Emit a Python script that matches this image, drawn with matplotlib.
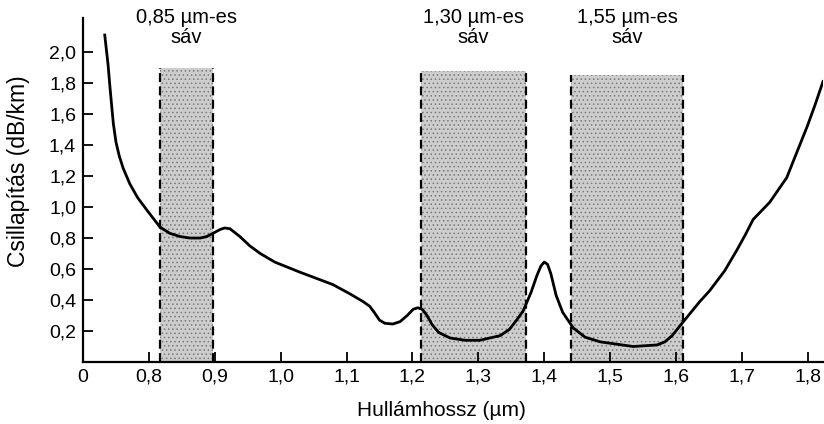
# Imports
import matplotlib
matplotlib.use('Agg')
import matplotlib.pyplot as plt
import numpy as np

# Plot configuration
plt.rcParams['font.family'] = ['Liberation Sans', 'DejaVu Sans']
plt.rcParams['hatch.linewidth'] = 0.6

# Attenuation curve (wavelength in um, dB/km)
# x = 0.7 is the broken-axis origin labelled "0"
wavelength = [0.733, 0.738, 0.741, 0.746, 0.750, 0.755, 0.761, 0.771, 0.783, 0.797,
              0.817, 0.832, 0.847, 0.862, 0.878, 0.888, 0.897, 0.908, 0.915, 0.923,
              0.938, 0.953, 0.969, 0.991, 1.029, 1.079, 1.105, 1.125, 1.135, 1.142,
              1.150, 1.158, 1.170, 1.181, 1.192, 1.201, 1.208, 1.215, 1.222, 1.230,
              1.240, 1.257, 1.280, 1.302, 1.333, 1.347, 1.358, 1.368, 1.380, 1.389,
              1.395, 1.400, 1.405, 1.410, 1.418, 1.428, 1.444, 1.462, 1.485, 1.535,
              1.571, 1.583, 1.594, 1.611, 1.636, 1.651, 1.674, 1.692, 1.705, 1.717,
              1.742, 1.768, 1.783, 1.799, 1.811, 1.823]
attenuation = [2.11, 1.92, 1.77, 1.54, 1.42, 1.33, 1.25, 1.15, 1.06, 0.98,
               0.87, 0.83, 0.81, 0.80, 0.80, 0.81, 0.83, 0.855, 0.865, 0.86,
               0.81, 0.75, 0.70, 0.645, 0.58, 0.50, 0.44, 0.39, 0.36, 0.32,
               0.27, 0.25, 0.245, 0.26, 0.30, 0.34, 0.35, 0.34, 0.30, 0.24,
               0.19, 0.155, 0.14, 0.14, 0.17, 0.21, 0.27, 0.33, 0.45, 0.56,
               0.62, 0.645, 0.63, 0.57, 0.43, 0.32, 0.22, 0.16, 0.13, 0.10,
               0.11, 0.13, 0.17, 0.26, 0.39, 0.46, 0.59, 0.72, 0.82, 0.92,
               1.03, 1.19, 1.35, 1.52, 1.66, 1.81]

# Transmission windows
band_start = [0.817, 1.213, 1.441]
band_end = [0.897, 1.372, 1.611]
band_top = [1.90, 1.88, 1.85]
band_labels = ['0,85 µm-es\nsáv', '1,30 µm-es\nsáv', '1,55 µm-es\nsáv']

x_ticks = [0.7, 0.8, 0.9, 1.0, 1.1, 1.2, 1.3, 1.4, 1.5, 1.6, 1.7, 1.8]
x_ticklabels = ['0', '0,8', '0,9', '1,0', '1,1', '1,2', '1,3', '1,4', '1,5', '1,6', '1,7', '1,8']
y_ticks = [0.2, 0.4, 0.6, 0.8, 1.0, 1.2, 1.4, 1.6, 1.8, 2.0]
y_ticklabels = ['0,2', '0,4', '0,6', '0,8', '1,0', '1,2', '1,4', '1,6', '1,8', '2,0']

fig = plt.figure(figsize=(8.24, 4.24), dpi=100)
ax = fig.add_axes([83 / 824, 62 / 424, 740 / 824, 344 / 424])

# Shaded bands
for x0, x1, top, lab in zip(band_start, band_end, band_top, band_labels):
    ax.fill_between([x0, x1], 0, top, facecolor='#cdcdcd', edgecolor='#7a7a7a',
                    hatch='....', linewidth=0, zorder=1)
    ax.vlines([x0, x1], 0, top, colors='black', linestyles=(0, (4, 2)),
              linewidth=1.6, zorder=2)
    ax.text((x0 + x1) / 2, 2.03, lab, ha='center', va='bottom', fontsize=14.5,
            linespacing=1.1, clip_on=False)

ax.plot(wavelength, attenuation, color='black', linewidth=2.0, zorder=3)

ax.set_xlim(0.7, 1.823)
ax.set_ylim(0, 2.22)
ax.spines['top'].set_visible(False)
ax.spines['right'].set_visible(False)
ax.spines['left'].set_linewidth(1.6)
ax.spines['bottom'].set_linewidth(1.6)

ax.set_xticks(x_ticks)
ax.set_xticklabels(x_ticklabels, fontsize=14)
ax.set_yticks(y_ticks)
ax.set_yticklabels(y_ticklabels, fontsize=14)
ax.tick_params(axis='both', direction='in', length=7, width=1.3, pad=5)
ax.xaxis.get_major_ticks()[0].tick1line.set_visible(False)

ax.set_xlabel('Hullámhossz (µm)', fontsize=15)
ax.set_ylabel('Csillapítás (dB/km)', fontsize=16.5)
ax.xaxis.set_label_coords(0.484, -0.113)
ax.yaxis.set_label_coords(-0.072, 0.555)

plt.savefig('out.png', dpi=100)
